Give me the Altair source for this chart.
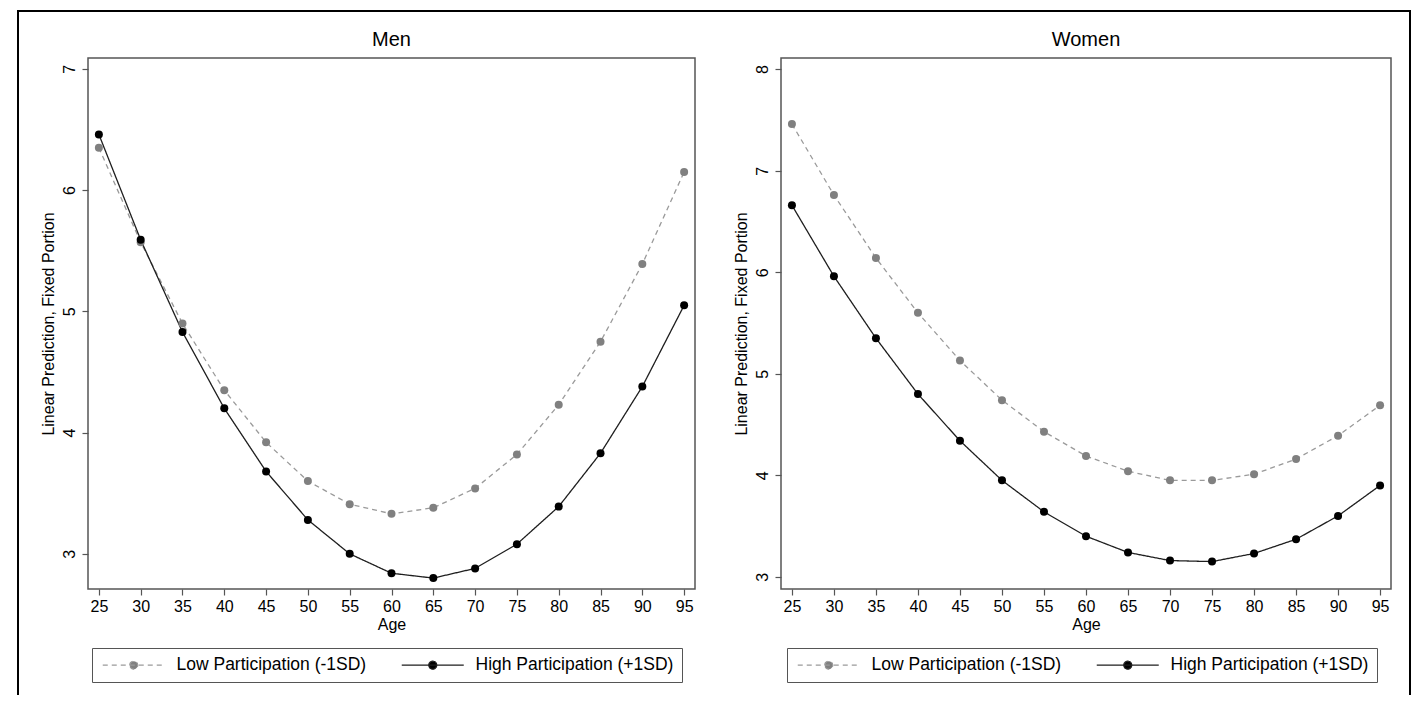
import altair as alt
import pandas as pd

# ---------------- data ----------------
ages = [25, 30, 35, 40, 45, 50, 55, 60, 65, 70, 75, 80, 85, 90, 95]
series_names = ["Low Participation (-1SD)", "High Participation (+1SD)"]

men_low = [6.35, 5.57, 4.90, 4.35, 3.92, 3.60, 3.41, 3.33, 3.38, 3.54, 3.82, 4.23, 4.75, 5.39, 6.15]
men_high = [6.46, 5.59, 4.83, 4.20, 3.68, 3.28, 3.00, 2.84, 2.80, 2.88, 3.08, 3.39, 3.83, 4.38, 5.05]
women_low = [7.46, 6.76, 6.14, 5.60, 5.13, 4.74, 4.43, 4.19, 4.04, 3.95, 3.95, 4.01, 4.16, 4.39, 4.69]
women_high = [6.66, 5.96, 5.35, 4.80, 4.34, 3.95, 3.64, 3.40, 3.24, 3.16, 3.15, 3.23, 3.37, 3.60, 3.90]

men_y_ticks = [3, 4, 5, 6, 7]
women_y_ticks = [3, 4, 5, 6, 7, 8]
men_y_domain = [2.71, 7.09]
women_y_domain = [2.88, 8.11]
x_domain = [23.7, 96.3]

panel_titles = ["Men", "Women"]
x_title = "Age"
y_title = "Linear Prediction, Fixed Portion"

# ---------------- styling ----------------
FONT = "Liberation Sans"
LINE_COLORS = ["#9a9a9a", "#1e1e1e"]
POINT_COLORS = ["#808080", "#000000"]
DASHES = [[5, 4], [1, 0]]
LEGEND_SYMBOL = "M-7.75,0L7.75,0M-1,0A1,1 0 1,1 1,0A1,1 0 1,1 -1,0Z"

PW1, PW2, PH = 607, 610, 531


def make_legend(lx):
    return alt.Legend(
        title=None, orient="none", legendX=lx, legendY=590,
        direction="horizontal", columns=2,
        symbolType=LEGEND_SYMBOL, symbolSize=64, symbolStrokeWidth=1.2,
        symbolOffset=25, labelOffset=34, columnPadding=32, padding=8,
        strokeColor="#555555", fillColor="white",
        labelFont=FONT, labelFontSize=17.5, labelColor="black", labelLimit=400,
    )


def frame_rule(x, y, x2=None, y2=None):
    enc = {"x": alt.value(x), "y": alt.value(y)}
    if x2 is not None:
        enc["x2"] = alt.value(x2)
    if y2 is not None:
        enc["y2"] = alt.value(y2)
    return alt.Chart(pd.DataFrame({"b": [0]})).mark_rule(
        color="black", strokeWidth=2, strokeCap="square"
    ).encode(**enc)


def panel(title, low, high, ydom, yticks, lx, width, title_offset, with_border=False):
    n = len(ages)
    df = pd.DataFrame({
        "age": ages + ages,
        "value": low + high,
        "series": [series_names[0]] * n + [series_names[1]] * n,
    })
    x = alt.X("age:Q",
              scale=alt.Scale(domain=x_domain, nice=False, zero=False),
              axis=alt.Axis(values=ages, title=x_title, grid=False, domain=False,
                            tickSize=6, tickColor="#555555", tickWidth=1.2,
                            labelFont=FONT, labelFontSize=16, labelColor="black",
                            labelPadding=3, labelFlush=False,
                            titleFont=FONT, titleFontSize=16, titleFontWeight="normal",
                            titleColor="black", titlePadding=2))
    y = alt.Y("value:Q",
              scale=alt.Scale(domain=ydom, nice=False, zero=False),
              axis=alt.Axis(values=yticks, title=y_title, grid=False, domain=False,
                            tickSize=6, tickColor="#555555", tickWidth=1.2,
                            labelAngle=270, labelFont=FONT, labelFontSize=16,
                            labelColor="black", labelPadding=5, labelFlush=False,
                            titleFont=FONT, titleFontSize=16, titleFontWeight="normal",
                            titleColor="black", titlePadding=5))
    leg = make_legend(lx)
    lines = alt.Chart(df).mark_line(strokeWidth=1.3).encode(
        x=x, y=y,
        stroke=alt.Stroke("series:N", scale=alt.Scale(domain=series_names, range=LINE_COLORS), legend=leg),
        strokeDash=alt.StrokeDash("series:N", scale=alt.Scale(domain=series_names, range=DASHES), legend=leg),
    )
    points = alt.Chart(df).mark_point(filled=True, size=64, opacity=1).encode(
        x=x, y=y,
        fill=alt.Fill("series:N", scale=alt.Scale(domain=series_names, range=POINT_COLORS), legend=leg),
    )
    layers = [lines, points]
    if with_border:
        layers += [
            frame_rule(-70, -47, x2=1322),
            frame_rule(-70, -47, y2=636),
            frame_rule(1322, -47, y2=636),
        ]
    return alt.layer(*layers).properties(
        width=width, height=PH,
        title=alt.TitleParams(title, font=FONT, fontSize=20, fontWeight="normal",
                              color="black", anchor="middle", offset=title_offset, frame="group"),
    )


left = panel(panel_titles[0], men_low, men_high, men_y_domain, men_y_ticks, 4, PW1, -40, with_border=True)
right = panel(panel_titles[1], women_low, women_high, women_y_domain, women_y_ticks, 6, PW2, 8)

chart = alt.hconcat(left, right, spacing=86, bounds="flush").resolve_scale(
    y="independent"
).resolve_legend(
    fill="independent", stroke="independent", strokeDash="independent"
).properties(
    padding={"left": 7, "top": 0, "right": 0, "bottom": 0},
    background="white",
).configure_view(
    stroke="#555555", strokeWidth=1.5
)

chart.save("out.html", embed_options={"renderer": "svg", "actions": False})
